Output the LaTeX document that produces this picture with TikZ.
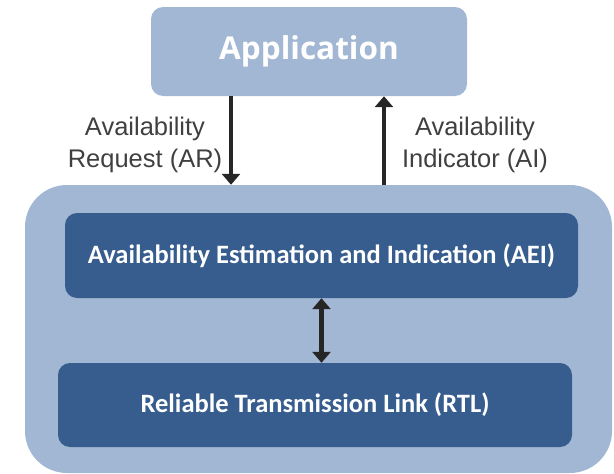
\documentclass[tikz,border=0pt]{standalone}
\usepackage{fontspec}
\setmainfont{Liberation Sans}
\newfontfamily\appfont{Open Sans}
\newfontfamily\boxfont{Carlito}
\usetikzlibrary{arrows.meta}

\definecolor{lightblk}{HTML}{A2B7D3}
\definecolor{darkblk}{HTML}{365D8E}
\definecolor{arrowgray}{HTML}{262626}
\definecolor{labelgray}{HTML}{404040}

\tikzset{
  lightbox/.style={fill=lightblk, draw=none, rounded corners=12pt},
  darkbox/.style={fill=darkblk, draw=none, rounded corners=12pt, text=white,
    font=\boxfont\bfseries\fontsize{26.5}{31}\selectfont},
  flow/.style={draw=arrowgray, line width=4.5pt, -{Triangle[length=11pt,width=18pt]}},
  flowlabel/.style={align=center, text=labelgray, font=\fontsize{25.5}{32}\selectfont}
}

\begin{document}
\begin{tikzpicture}[x=1pt,y=-1pt]
  % Fix the page size
  \useasboundingbox (0,0) rectangle (614,474);

  % Application on top
  \node[lightbox, minimum width=316pt, minimum height=89pt, text=white,
    font=\appfont\bfseries\fontsize{31.5}{36}\selectfont] (app) at (309,51.5) {\raisebox{-3pt}{Application}};

  % Outer block with the two layers
  \node[lightbox, rounded corners=42pt, minimum width=587pt, minimum height=288pt] (stack) at (318.5,329) {};
  \node[darkbox, minimum width=513pt, minimum height=85pt] (aei) at (321.5,255.5)
    {Availability Estimation and Indication (AEI)};
  \node[darkbox, minimum width=514pt, minimum height=84pt] (rtl) at (315,405)
    {Reliable Transmission Link (RTL)};

  % Request and indicator between application and block
  \coordinate (arx) at (231,0);
  \coordinate (aix) at (384,0);
  \draw[flow] (app.south -| arx) -- (stack.north -| arx);
  \draw[flow] (stack.north -| aix) -- (app.south -| aix);
  \node[flowlabel] (arlabel) at (145,145) {Availability\\Request (AR)};
  \node[flowlabel] (ailabel) at (475,145) {Availability\\Indicator (AI)};

  % Link between the two layers
  \draw[flow, {Triangle[length=11pt,width=18pt]}-{Triangle[length=11pt,width=18pt]}]
    (aei.south) -- (rtl.north -| aei.south);

\end{tikzpicture}
\end{document}
